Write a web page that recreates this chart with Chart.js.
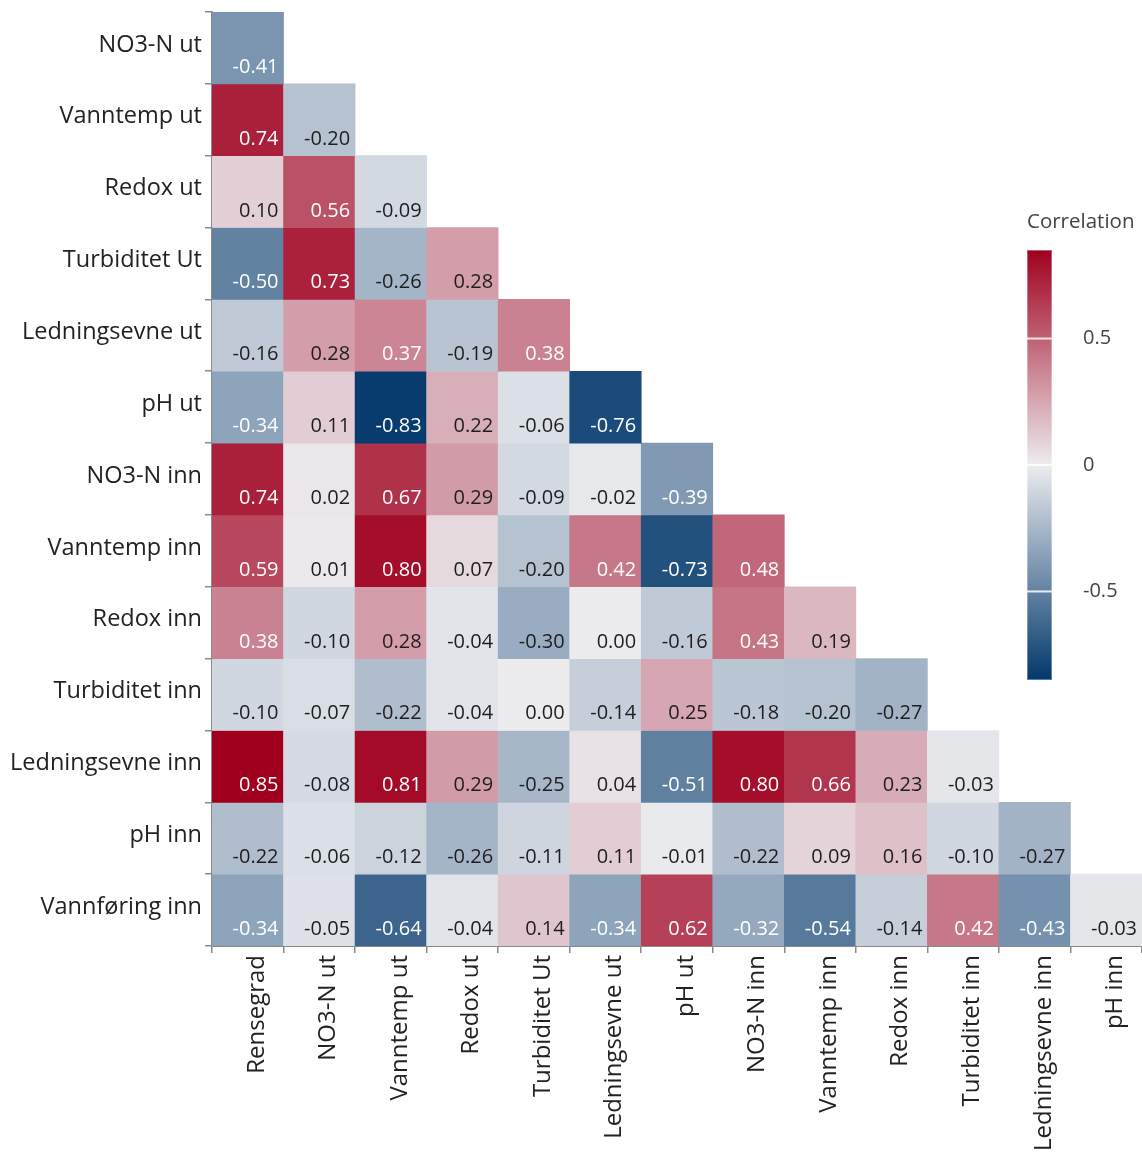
<!DOCTYPE html>
<html>
<head>
<meta charset="utf-8">
<script src="https://cdn.jsdelivr.net/npm/chart.js@4.4.1/dist/chart.umd.min.js"></script>
<style>
  html, body { margin: 0; padding: 0; background: #ffffff; }
  #wrap { width: 1142px; height: 1156px; }
</style>
</head>
<body>
<div id="wrap"><canvas id="heat" width="1142" height="1156"></canvas></div>
<script>
// Variables on each axis (rows top to bottom, columns left to right)
const rowLabels = ['NO3-N ut', 'Vanntemp ut', 'Redox ut', 'Turbiditet Ut', 'Ledningsevne ut', 'pH ut',
  'NO3-N inn', 'Vanntemp inn', 'Redox inn', 'Turbiditet inn', 'Ledningsevne inn', 'pH inn', 'Vannføring inn'];
const colLabels = ['Rensegrad', 'NO3-N ut', 'Vanntemp ut', 'Redox ut', 'Turbiditet Ut', 'Ledningsevne ut',
  'pH ut', 'NO3-N inn', 'Vanntemp inn', 'Redox inn', 'Turbiditet inn', 'Ledningsevne inn', 'pH inn'];

// Pairwise correlations, lower triangle, one array per row
const rowNO3Ut        = [-0.41];
const rowVanntempUt   = [0.74, -0.20];
const rowRedoxUt      = [0.10, 0.56, -0.09];
const rowTurbUt       = [-0.50, 0.73, -0.26, 0.28];
const rowLedUt        = [-0.16, 0.28, 0.37, -0.19, 0.38];
const rowPhUt         = [-0.34, 0.11, -0.83, 0.22, -0.06, -0.76];
const rowNO3Inn       = [0.74, 0.02, 0.67, 0.29, -0.09, -0.02, -0.39];
const rowVanntempInn  = [0.59, 0.01, 0.80, 0.07, -0.20, 0.42, -0.73, 0.48];
const rowRedoxInn     = [0.38, -0.10, 0.28, -0.04, -0.30, 0.00, -0.16, 0.43, 0.19];
const rowTurbInn      = [-0.10, -0.07, -0.22, -0.04, 0.00, -0.14, 0.25, -0.18, -0.20, -0.27];
const rowLedInn       = [0.85, -0.08, 0.81, 0.29, -0.25, 0.04, -0.51, 0.80, 0.66, 0.23, -0.03];
const rowPhInn        = [-0.22, -0.06, -0.12, -0.26, -0.11, 0.11, -0.01, -0.22, 0.09, 0.16, -0.10, -0.27];
const rowVannforing   = [-0.34, -0.05, -0.64, -0.04, 0.14, -0.34, 0.62, -0.32, -0.54, -0.14, 0.42, -0.43, -0.03];

const matrixRows = [rowNO3Ut, rowVanntempUt, rowRedoxUt, rowTurbUt, rowLedUt, rowPhUt, rowNO3Inn,
  rowVanntempInn, rowRedoxInn, rowTurbInn, rowLedInn, rowPhInn, rowVannforing];

// Colour legend range and ticks
const colorRange = [-0.85, 0.85];
const legendTicks = [0.5, 0, -0.5];
const legendTitle = 'Correlation';

// Diverging palette: blue - light grey - red
const negEnd = [2, 56, 108];
const midCol = [236, 236, 239];
const posEnd = [160, 0, 30];
function corrColor(v) {
  const t = Math.max(-1, Math.min(1, v / colorRange[1]));
  const end = t < 0 ? negEnd : posEnd;
  const a = Math.abs(t);
  const c = midCol.map((m, i) => Math.round(m + (end[i] - m) * a));
  return `rgb(${c[0]},${c[1]},${c[2]})`;
}

const FONT = '"Open Sans", "Noto Sans", "DejaVu Sans", sans-serif';

// One floating-bar dataset per row; each bar spans its row on the y scale
const datasets = matrixRows.map((vals, r) => ({
  label: rowLabels[r],
  data: colLabels.map((_, c) => (c < vals.length ? [r - 0.5, r + 0.5] : null)),
  corr: vals,
  backgroundColor: colLabels.map((_, c) => (c < vals.length ? corrColor(vals[c]) : 'rgba(0,0,0,0)')),
  borderWidth: 0,
  barPercentage: 1.0,
  categoryPercentage: 1.0,
  grouped: false,
  yAxisID: 'y'
}));

// Writes the coefficient in the lower-right corner of every cell
const cellText = {
  id: 'cellText',
  afterDatasetsDraw(chart) {
    const ctx = chart.ctx;
    ctx.save();
    ctx.font = `20px ${FONT}`;
    ctx.textAlign = 'right';
    ctx.textBaseline = 'alphabetic';
    chart.data.datasets.forEach((ds, di) => {
      const meta = chart.getDatasetMeta(di);
      meta.data.forEach((bar, c) => {
        if (c >= ds.corr.length) return;
        const v = ds.corr[c];
        const right = bar.x + bar.width / 2;
        const bottom = Math.max(bar.y, bar.base);
        ctx.fillStyle = Math.abs(v) > 0.305 ? '#ffffff' : '#1e1e1e';
        ctx.fillText(v.toFixed(2), right - 5, bottom - 11);
      });
    });
    ctx.restore();
  }
};

// Colour bar legend in the empty upper-right triangle
const colorBar = {
  id: 'colorBar',
  afterDraw(chart) {
    const ctx = chart.ctx;
    const area = chart.chartArea;
    const x = area.right - 115, w = 25;
    const top = area.top + 238, bottom = area.top + 668;
    const valToY = v => top + (colorRange[1] - v) / (colorRange[1] - colorRange[0]) * (bottom - top);
    ctx.save();
    const g = ctx.createLinearGradient(0, top, 0, bottom);
    for (let i = 0; i <= 20; i++) {
      const v = colorRange[1] - i / 20 * (colorRange[1] - colorRange[0]);
      g.addColorStop(i / 20, corrColor(v));
    }
    ctx.fillStyle = g;
    ctx.fillRect(x, top, w, bottom - top);
    ctx.strokeStyle = 'rgba(255,255,255,0.35)';
    ctx.lineWidth = 1;
    ctx.strokeRect(x + 0.5, top + 0.5, w - 1, bottom - top - 1);
    ctx.strokeStyle = 'rgba(255,255,255,0.85)';
    ctx.lineWidth = 2;
    ctx.font = `20px ${FONT}`;
    ctx.fillStyle = '#444444';
    ctx.textAlign = 'left';
    ctx.textBaseline = 'middle';
    legendTicks.forEach(v => {
      const y = valToY(v);
      ctx.beginPath();
      ctx.moveTo(x, y);
      ctx.lineTo(x + w, y);
      ctx.stroke();
      ctx.fillText(String(v), x + w + 31, y);
    });
    ctx.font = `20.5px ${FONT}`;
    ctx.fillText(legendTitle, x, area.top + 210);
    ctx.restore();
  }
};

const rowBounds = Array.from({ length: rowLabels.length + 1 }, (_, i) => i - 0.5);
const rowCenters = rowLabels.map((_, i) => i);
const zeroPad = s => { s.paddingTop = 0; s.paddingBottom = 0; s.paddingLeft = 0; s.paddingRight = 0; };

new Chart(document.getElementById('heat'), {
  type: 'bar',
  data: { labels: colLabels, datasets },
  options: {
    responsive: false,
    animation: false,
    layout: { padding: { top: 12, right: 0, left: 0, bottom: 0 } },
    plugins: { legend: { display: false }, tooltip: { enabled: false } },
    scales: {
      x: {
        type: 'category',
        offset: true,
        grid: { offset: true, drawOnChartArea: false, drawTicks: true, tickLength: 7, color: '#8a8a8a', lineWidth: 1.5 },
        border: { display: true, color: '#8a8a8a', width: 2 },
        ticks: { minRotation: 90, maxRotation: 90, autoSkip: false, padding: 2, labelOffset: 9, color: '#222222', font: { family: FONT, size: 24 } },
        afterFit: s => { s.height = 210; zeroPad(s); }
      },
      y: {
        type: 'linear',
        reverse: true,
        min: -0.5,
        max: rowLabels.length - 0.5,
        weight: 0,
        afterBuildTicks: s => { s.ticks = rowBounds.map(v => ({ value: v })); },
        grid: { drawOnChartArea: false, drawTicks: true, tickLength: 7, color: '#8a8a8a', lineWidth: 1.5 },
        border: { display: true, color: '#8a8a8a', width: 2 },
        ticks: { display: false },
        afterFit: s => { s.width = 8; zeroPad(s); }
      },
      yl: {
        type: 'linear',
        position: 'left',
        reverse: true,
        min: -0.5,
        max: rowLabels.length - 0.5,
        weight: 1,
        afterBuildTicks: s => { s.ticks = rowCenters.map(v => ({ value: v })); },
        grid: { display: false, drawTicks: false },
        border: { display: false },
        ticks: {
          padding: 2,
          labelOffset: -3,
          color: '#222222',
          font: { family: FONT, size: 23.5 },
          callback: v => rowLabels[v]
        },
        afterFit: s => { s.width = 204; zeroPad(s); }
      }
    }
  },
  plugins: [cellText, colorBar]
});
</script>
</body>
</html>
